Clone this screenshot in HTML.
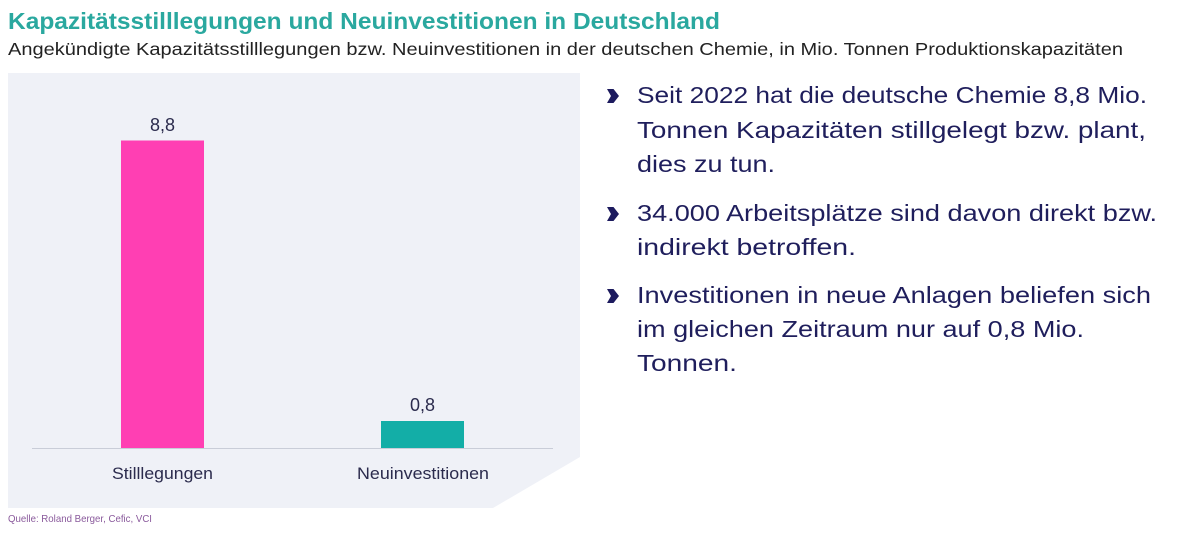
<!DOCTYPE html>
<html>
<head>
<meta charset="utf-8">
<style>
html,body{margin:0;padding:0;background:#ffffff;}
svg{display:block;}
text{font-family:"Liberation Sans",sans-serif;}
</style>
</head>
<body>
<svg width="1200" height="551" viewBox="0 0 1200 551" xmlns="http://www.w3.org/2000/svg">
  <rect x="0" y="0" width="1200" height="551" fill="#ffffff"/>
  <!-- Title -->
  <text x="8" y="29" font-size="23" font-weight="bold" fill="#2aa89f" textLength="712" lengthAdjust="spacingAndGlyphs">Kapazitätsstilllegungen und Neuinvestitionen in Deutschland</text>
  <text x="8" y="55" font-size="17.5" fill="#222222" textLength="1115" lengthAdjust="spacingAndGlyphs">Angekündigte Kapazitätsstilllegungen bzw. Neuinvestitionen in der deutschen Chemie, in Mio. Tonnen Produktionskapazitäten</text>

  <!-- Chart panel -->
  <polygon points="8,73 580,73 580,457 493,508 8,508" fill="#eff1f7"/>
  <line x1="32" y1="448.5" x2="553" y2="448.5" stroke="#c9cdd8" stroke-width="1"/>

  <!-- Bars -->
  <rect x="121" y="140.5" width="83" height="307.5" fill="#ff3fb3"/>
  <rect x="381" y="421" width="83" height="27" fill="#13aea7"/>

  <!-- Value labels -->
  <text x="162.5" y="131" font-size="18" fill="#2b2b4d" text-anchor="middle">8,8</text>
  <text x="422.5" y="411" font-size="18" fill="#2b2b4d" text-anchor="middle">0,8</text>

  <!-- Category labels -->
  <text x="112" y="479" font-size="17" fill="#2b2b4d" textLength="101" lengthAdjust="spacingAndGlyphs">Stilllegungen</text>
  <text x="357" y="479" font-size="17" fill="#2b2b4d" textLength="132" lengthAdjust="spacingAndGlyphs">Neuinvestitionen</text>

  <!-- Source -->
  <text x="8" y="522" font-size="10.5" fill="#8a5a9c" textLength="144" lengthAdjust="spacingAndGlyphs">Quelle: Roland Berger, Cefic, VCI</text>

  <!-- Bullets -->
  <g fill="#1c1a5e">
    <polygon points="607,89 613.5,89 619,96 613.5,103 607,103 611,96"/>
    <polygon points="607,207 613.5,207 619,214 613.5,221 607,221 611,214"/>
    <polygon points="607,289 613.5,289 619,296 613.5,303 607,303 611,296"/>
  </g>

  <!-- Right text -->
  <g font-size="23.5" fill="#1f1e5c">
    <text x="637" y="103" textLength="510" lengthAdjust="spacingAndGlyphs">Seit 2022 hat die deutsche Chemie 8,8 Mio.</text>
    <text x="637" y="138" textLength="509" lengthAdjust="spacingAndGlyphs">Tonnen Kapazitäten stillgelegt bzw. plant,</text>
    <text x="637" y="172" textLength="138" lengthAdjust="spacingAndGlyphs">dies zu tun.</text>

    <text x="637" y="221" textLength="520" lengthAdjust="spacingAndGlyphs">34.000 Arbeitsplätze sind davon direkt bzw.</text>
    <text x="637" y="255" textLength="219" lengthAdjust="spacingAndGlyphs">indirekt betroffen.</text>

    <text x="637" y="303" textLength="514" lengthAdjust="spacingAndGlyphs">Investitionen in neue Anlagen beliefen sich</text>
    <text x="637" y="337" textLength="447" lengthAdjust="spacingAndGlyphs">im gleichen Zeitraum nur auf 0,8 Mio.</text>
    <text x="637" y="371" textLength="100" lengthAdjust="spacingAndGlyphs">Tonnen.</text>
  </g>
</svg>
</body>
</html>
